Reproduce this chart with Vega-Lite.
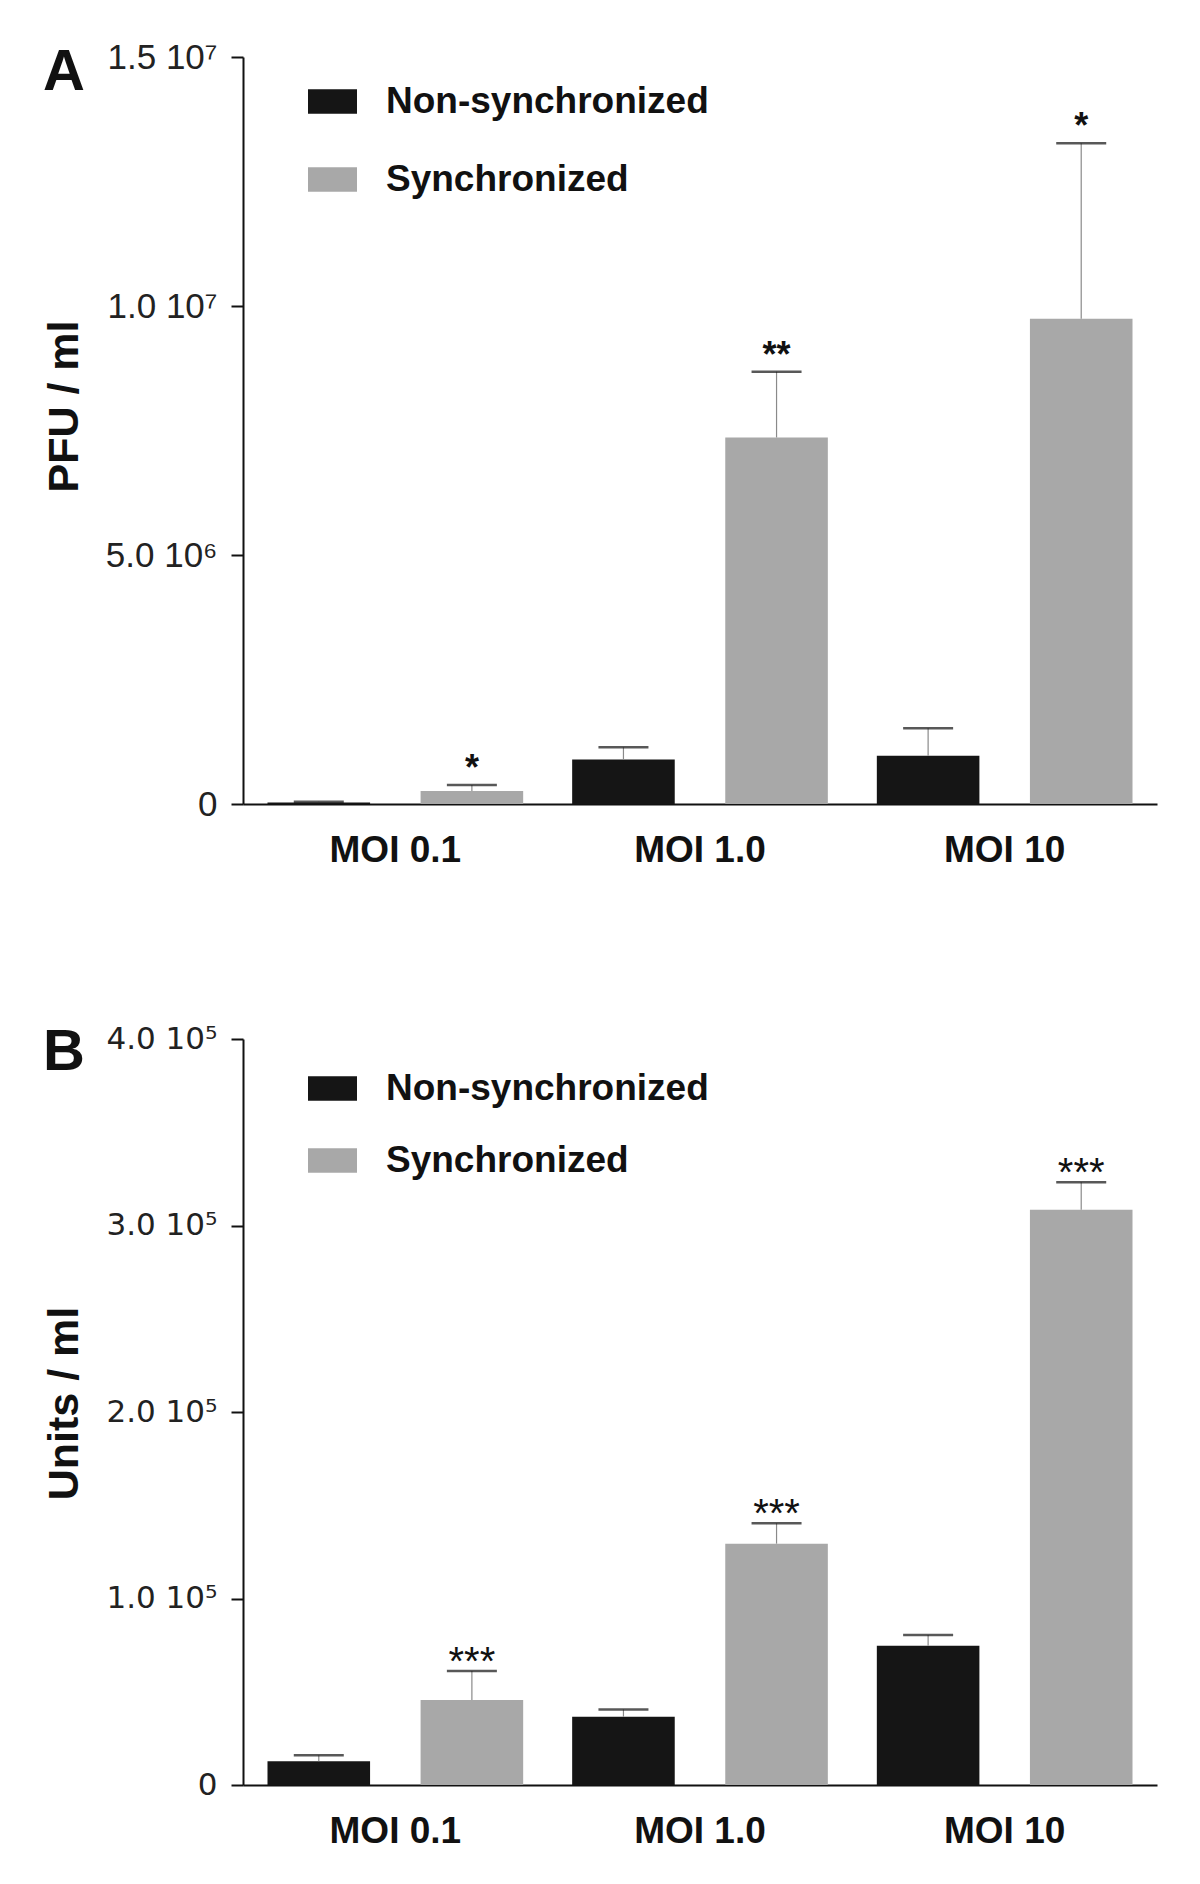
{
  "$schema": "https://vega.github.io/schema/vega-lite/v6.json",
  "background": "white",
  "padding": {"left": 43, "top": 40, "right": 5, "bottom": 5},
  "config": {"view": {"stroke": null}, "font": "Liberation Sans"},
  "datasets": {
    "a": [
      {"moi": "MOI 0.1", "group": "Non-synchronized", "value": 30000, "upper": 45000, "sig": ""},
      {"moi": "MOI 0.1", "group": "Synchronized", "value": 261000, "upper": 380000, "sig": "*"},
      {"moi": "MOI 1.0", "group": "Non-synchronized", "value": 895000, "upper": 1138000, "sig": ""},
      {"moi": "MOI 1.0", "group": "Synchronized", "value": 7360000, "upper": 8680000, "sig": "**"},
      {"moi": "MOI 10", "group": "Non-synchronized", "value": 967000, "upper": 1520000, "sig": ""},
      {"moi": "MOI 10", "group": "Synchronized", "value": 9745000, "upper": 13266000, "sig": "*"}
    ],
    "b": [
      {"moi": "MOI 0.1", "group": "Non-synchronized", "value": 12800, "upper": 16000, "sig": ""},
      {"moi": "MOI 0.1", "group": "Synchronized", "value": 45600, "upper": 61100, "sig": "***"},
      {"moi": "MOI 1.0", "group": "Non-synchronized", "value": 36600, "upper": 40500, "sig": ""},
      {"moi": "MOI 1.0", "group": "Synchronized", "value": 129400, "upper": 140300, "sig": "***"},
      {"moi": "MOI 10", "group": "Non-synchronized", "value": 74600, "upper": 80400, "sig": ""},
      {"moi": "MOI 10", "group": "Synchronized", "value": 308400, "upper": 323200, "sig": "***"}
    ]
  },
  "spacing": 235,
  "bounds": "flush",
  "resolve": {"scale": {"color": "independent", "y": "independent"}, "legend": {"color": "independent"}},
  "vconcat": [
    {
      "width": 914,
      "height": 747,
      "data": {"name": "a"},
      "title": {"text": "A", "anchor": "start", "frame": "group", "dx": -200, "dy": 10, "offset": -52, "fontSize": 58, "fontWeight": "bold", "baseline": "top", "color": "#111111"},
      "encoding": {
        "x": {"field": "moi", "type": "nominal", "sort": ["MOI 0.1", "MOI 1.0", "MOI 10"], "scale": {"paddingInner": 0, "paddingOuter": 0},
          "axis": {"title": null, "labelAngle": 0, "labelFontSize": 37, "labelFontWeight": "bold", "labelPadding": 28, "ticks": false, "domainWidth": 2, "domainColor": "#111111", "labelColor": "#111111"}},
        "xOffset": {"field": "group", "type": "nominal", "sort": ["Non-synchronized", "Synchronized"], "scale": {"paddingInner": 0.33, "paddingOuter": 0.16}}
      },
      "layer": [
        {
          "mark": {"type": "bar"},
          "encoding": {
            "y": {"field": "value", "type": "quantitative", "title": "PFU / ml", "scale": {"domain": [0, 15000000], "nice": false},
              "axis": {"values": [0, 5000000, 10000000, 15000000], "labelExpr": "datum.value === 0 ? '0' : datum.value === 5000000 ? '5.0 10⁶' : datum.value === 10000000 ? '1.0 10⁷' : '1.5 10⁷'",
                "titleFontSize": 43, "titleFontWeight": "bold", "titleX": -200, "titleY": 349, "titleBaseline": "top", "titleAlign": "center", "titleColor": "#111111",
                "labelFontSize": 35, "labelPadding": 14, "labelColor": "#222222", "tickSize": 12, "tickWidth": 2, "tickColor": "#111111", "domainWidth": 2, "domainColor": "#111111", "grid": false}},
            "color": {"field": "group", "type": "nominal", "sort": ["Non-synchronized", "Synchronized"], "scale": {"domain": ["Non-synchronized", "Synchronized"], "range": ["#151515", "#a8a8a8"]},
              "legend": {"orient": "none", "legendX": 65, "legendY": 20, "title": null, "symbolType": "M-1,-0.5H1V0.5H-1Z", "symbolSize": 2401, "symbolStrokeWidth": 0, "symbolOpacity": 1, "labelFontSize": 37, "labelFontWeight": "bold", "labelOffset": 29, "rowPadding": 35, "padding": 0, "labelColor": "#111111", "labelLimit": 600}}
          }
        },
        {
          "mark": {"type": "rule", "color": "#8a8a8a", "strokeWidth": 1.2},
          "encoding": {"y": {"field": "value", "type": "quantitative", "title": "PFU / ml"}, "y2": {"field": "upper"}}
        },
        {
          "mark": {"type": "tick", "color": "#111111", "size": 50, "thickness": 2.5},
          "encoding": {"y": {"field": "upper", "type": "quantitative", "title": "PFU / ml"}}
        },
        {
          "transform": [{"filter": "datum.sig != ''"}],
          "mark": {"type": "text", "fontSize": 36, "fontWeight": "bold", "baseline": "alphabetic", "dy": -5, "color": "#111111"},
          "encoding": {"y": {"field": "upper", "type": "quantitative", "title": "PFU / ml"}, "text": {"field": "sig"}}
        }
      ]
    },
    {
      "width": 914,
      "height": 746,
      "data": {"name": "b"},
      "title": {"text": "B", "anchor": "start", "frame": "group", "dx": -200, "dy": 9, "offset": -50, "fontSize": 58, "fontWeight": "bold", "baseline": "top", "color": "#111111"},
      "encoding": {
        "x": {"field": "moi", "type": "nominal", "sort": ["MOI 0.1", "MOI 1.0", "MOI 10"], "scale": {"paddingInner": 0, "paddingOuter": 0},
          "axis": {"title": null, "labelAngle": 0, "labelFontSize": 37, "labelFontWeight": "bold", "labelPadding": 28, "ticks": false, "domainWidth": 2, "domainColor": "#111111", "labelColor": "#111111"}},
        "xOffset": {"field": "group", "type": "nominal", "sort": ["Non-synchronized", "Synchronized"], "scale": {"paddingInner": 0.33, "paddingOuter": 0.16}}
      },
      "layer": [
        {
          "mark": {"type": "bar"},
          "encoding": {
            "y": {"field": "value", "type": "quantitative", "title": "Units / ml", "scale": {"domain": [0, 400000], "nice": false},
              "axis": {"values": [0, 100000, 200000, 300000, 400000], "labelExpr": "datum.value === 0 ? '0' : datum.value === 100000 ? '1.0 10⁵' : datum.value === 200000 ? '2.0 10⁵' : datum.value === 300000 ? '3.0 10⁵' : '4.0 10⁵'",
                "titleFontSize": 43, "titleFontWeight": "bold", "titleX": -200, "titleY": 364, "titleBaseline": "top", "titleAlign": "center", "titleColor": "#111111",
                "labelFont": "DejaVu Sans", "labelFontSize": 31, "labelPadding": 14, "labelColor": "#222222", "tickSize": 12, "tickWidth": 2, "tickColor": "#111111", "domainWidth": 2, "domainColor": "#111111", "grid": false}},
            "color": {"field": "group", "type": "nominal", "sort": ["Non-synchronized", "Synchronized"], "scale": {"domain": ["Non-synchronized", "Synchronized"], "range": ["#151515", "#a8a8a8"]},
              "legend": {"orient": "none", "legendX": 65, "legendY": 25, "title": null, "symbolType": "M-1,-0.5H1V0.5H-1Z", "symbolSize": 2401, "symbolStrokeWidth": 0, "symbolOpacity": 1, "labelFontSize": 37, "labelFontWeight": "bold", "labelOffset": 29, "rowPadding": 29, "padding": 0, "labelColor": "#111111", "labelLimit": 600}}
          }
        },
        {
          "mark": {"type": "rule", "color": "#8a8a8a", "strokeWidth": 1.2},
          "encoding": {"y": {"field": "value", "type": "quantitative", "title": "Units / ml"}, "y2": {"field": "upper"}}
        },
        {
          "mark": {"type": "tick", "color": "#111111", "size": 50, "thickness": 2.5},
          "encoding": {"y": {"field": "upper", "type": "quantitative", "title": "Units / ml"}}
        },
        {
          "transform": [{"filter": "datum.sig != ''"}],
          "mark": {"type": "text", "fontSize": 40, "fontWeight": "normal", "baseline": "alphabetic", "dy": 4, "color": "#111111"},
          "encoding": {"y": {"field": "upper", "type": "quantitative", "title": "Units / ml"}, "text": {"field": "sig"}}
        }
      ]
    }
  ]
}
